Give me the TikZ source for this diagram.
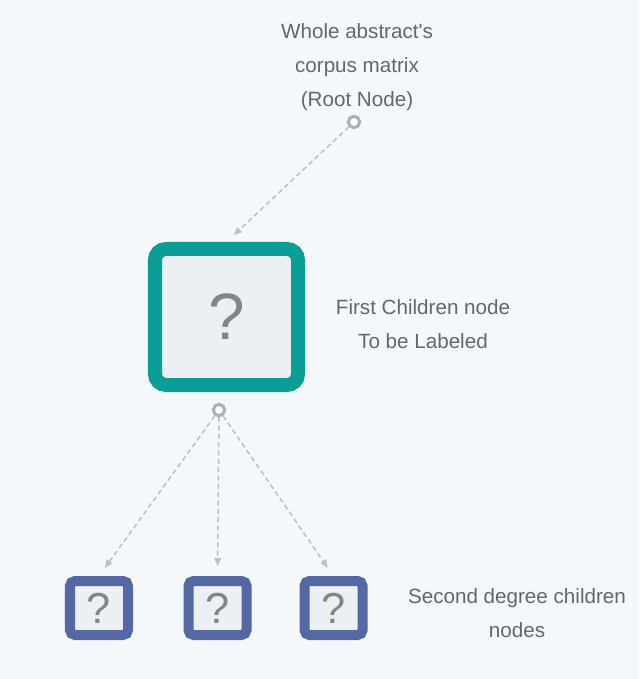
\documentclass[tikz,border=0pt]{standalone}
\usepackage{fontspec}
\setmainfont{Liberation Sans}
\usetikzlibrary{arrows.meta, positioning}
\definecolor{bgcol}{HTML}{F5F8FA}
\definecolor{tealcol}{HTML}{0A9E96}
\definecolor{bluecol}{HTML}{5468A4}
\definecolor{innercol}{HTML}{ECF0F3}
\definecolor{qcol}{HTML}{80858F}
\definecolor{txtcol}{HTML}{63676D}
\definecolor{linecol}{HTML}{BCC0C4}
\definecolor{hubcol}{HTML}{ABAEB2}

\begin{document}
\begin{tikzpicture}[x=0.03cm, y=-0.03cm,
  bigbox/.style={draw=tealcol, line width=0.42cm, fill=innercol, rounded corners=0.33cm,
    minimum width=4.29cm, minimum height=4.08cm, text=qcol, font=\fontsize{56}{56}\selectfont},
  smallbox/.style={draw=bluecol, line width=0.3cm, fill=innercol, rounded corners=0.15cm,
    minimum width=1.74cm, minimum height=1.62cm, text=qcol, font=\fontsize{37}{37}\selectfont},
  hub/.style={circle, draw=hubcol, line width=0.09cm, fill=white, minimum size=0.34cm, inner sep=0pt},
  link/.style={draw=linecol, line width=0.045cm, dash pattern=on 0.15cm off 0.1cm,
    -{Triangle[length=0.24cm, width=0.2cm]}, shorten >=0.3cm},
  caption/.style={text=txtcol, align=center, font=\fontsize{17.6}{29}\selectfont}
  ]
  \fill [bgcol] (0,0) rectangle (639,679);
  \useasboundingbox (0,0) rectangle (639,679);
  % root and first child
  \node [hub] (root) at (354,122) {};
  \node [caption] (rootlabel) at (357,67) {Whole abstract\textquotesingle s\\corpus matrix\\(Root Node)};
  \node [bigbox] (first) at (226.5,317) {?};
  \node [caption] (firstlabel) at (423,324) {First Children node\\To be Labeled};
  \node [hub] (split) at (219,410) {};
  % second degree children
  \node [smallbox] (second1) at (99,608) {?};
  \node [smallbox] (second2) at (217.5,608) {?};
  \node [smallbox] (second3) at (333.5,608) {?};
  \node [caption] (secondlabel) at (517,613) {Second degree children\\nodes};
  % connectors
  \draw [link] (root) -- (first.north);
  \draw [link] (split) -- (second1.north);
  \draw [link] (split) -- (second2.north);
  \draw [link] (split) -- (second3.north);
\end{tikzpicture}
\end{document}
